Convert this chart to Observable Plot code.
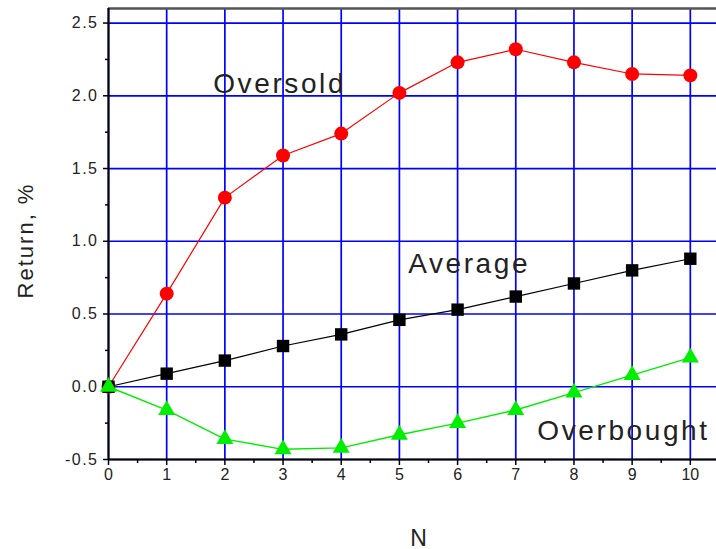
<!DOCTYPE html>
<html>
<head>
<meta charset="utf-8">
<script src="https://cdn.jsdelivr.net/npm/d3@7"></script>
<script src="https://cdn.jsdelivr.net/npm/@observablehq/plot@0.6"></script>
<style>
  html, body { margin: 0; padding: 0; background: #fff; }
  svg { display: block; }
  g[aria-label="y-axis tick label"] text { letter-spacing: 1.5px; }
</style>
</head>
<body>
<div id="chart"></div>
<script>
// Data
const N = [0, 1, 2, 3, 4, 5, 6, 7, 8, 9, 10];
const oversold   = [0, 0.64, 1.30, 1.59, 1.74, 2.02, 2.23, 2.32, 2.23, 2.15, 2.14];
const average    = [0, 0.09, 0.18, 0.28, 0.36, 0.46, 0.53, 0.62, 0.71, 0.80, 0.88];
const overbought = [0, -0.16, -0.36, -0.43, -0.42, -0.33, -0.25, -0.16, -0.04, 0.08, 0.20];
const yTicks = [-0.5, 0, 0.5, 1.0, 1.5, 2.0, 2.5];
const yMinor = [-0.25, 0.25, 0.75, 1.25, 1.75, 2.25];
const xTicks = N;
const xMinor = [0.5, 1.5, 2.5, 3.5, 4.5, 5.5, 6.5, 7.5, 8.5, 9.5];
const labels = [
  {text: "Oversold", x: 1.8, y: 2.02},
  {text: "Average", x: 5.15, y: 0.78},
  {text: "Overbought", x: 7.37, y: -0.365}
];
const xTitle = "N";
const yTitle = "Return, %";

const rows = (ys) => N.map((n, i) => ({n, v: ys[i]}));
const font = "Liberation Sans, Arial, sans-serif";

const chart = Plot.plot({
  width: 716,
  height: 549,
  marginLeft: 108,
  marginRight: 0,
  marginTop: 8,
  marginBottom: 90,
  style: {fontFamily: font, fontSize: "16px", background: "#fff", color: "#000"},
  x: {domain: [0, 10.45], axis: null},
  y: {domain: [-0.5, 2.6], axis: null},
  marks: [
    Plot.gridX(xTicks, {stroke: "#0000ff", strokeOpacity: 1, strokeWidth: 1.7}),
    Plot.gridY(yTicks, {stroke: "#0000ff", strokeOpacity: 1, strokeWidth: 1.7}),
    Plot.ruleY([2.6], {stroke: "#555", strokeWidth: 2.5}),
    Plot.axisY(yTicks, {tickSize: 5, tickPadding: 5, tickFormat: d => d.toFixed(1), fontSize: 16, strokeWidth: 1.5, fill: "#222"}),
    Plot.axisY(yMinor, {tickSize: 3, tickFormat: () => "", strokeWidth: 1.5}),
    Plot.axisX(xTicks, {tickSize: 6, tickPadding: 3, tickFormat: d => String(d), fontSize: 16, strokeWidth: 1.5, fill: "#222"}),
    Plot.axisX(xMinor, {tickSize: 4, tickFormat: () => "", strokeWidth: 1.5}),
    Plot.ruleX([0], {stroke: "#000", strokeWidth: 2}),
    Plot.ruleY([-0.5], {stroke: "#000", strokeWidth: 2}),
    Plot.line(rows(oversold), {x: "n", y: "v", stroke: "#ff0000", strokeWidth: 1.2}),
    Plot.line(rows(average), {x: "n", y: "v", stroke: "#000000", strokeWidth: 1.2}),
    Plot.line(rows(overbought), {x: "n", y: "v", stroke: "#00ee00", strokeWidth: 1.4}),
    Plot.dot(rows(oversold), {x: "n", y: "v", r: 7, fill: "#ff0000", stroke: "none"}),
    Plot.dot(rows(average), {x: "n", y: "v", r: 7, symbol: "square", fill: "#000000", stroke: "none"}),
    Plot.dot(rows(overbought), {x: "n", y: "v", r: 6.3, symbol: "triangle", fill: "#00ee00", stroke: "none"}),
    Plot.text(labels, {x: "x", y: "y", text: "text", textAnchor: "start", lineAnchor: "bottom", fontSize: 28, fill: "#222"}),
    Plot.text([xTitle], {frameAnchor: "bottom", lineAnchor: "bottom", dx: 6, dy: 86, fontSize: 23, fill: "#222"}),
    Plot.text([yTitle], {frameAnchor: "left", textAnchor: "middle", rotate: -90, dx: -83, dy: 6.5, fontSize: 22, fill: "#222"})
  ]
});
// letter spacing to mimic the wider original font
d3.select(chart).selectAll("text").each(function() {
  const t = this.textContent;
  if (labels.some(l => l.text === t)) this.style.letterSpacing = "2.6px";
  else if (t === yTitle) this.style.letterSpacing = "2px";
});
document.getElementById("chart").appendChild(chart);
</script>
</body>
</html>
